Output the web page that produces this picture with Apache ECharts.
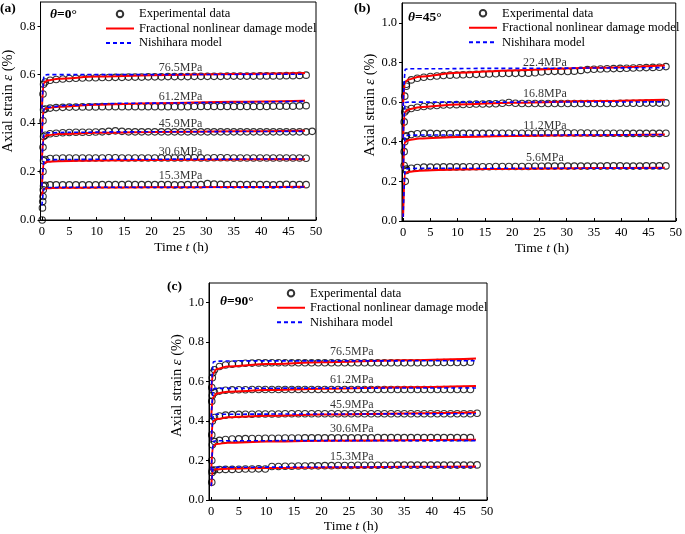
<!DOCTYPE html>
<html><head><meta charset="utf-8">
<script src="https://cdn.jsdelivr.net/npm/echarts@6/dist/echarts.min.js"></script>
<style>html,body{margin:0;padding:0;background:#fff}#c{width:685px;height:534px}</style>
</head><body><div id="c"></div>
<script>
// ---------- shared ----------
const expT = [0.6,1.5,2.6,3.8,5.0,6.2,7.4,8.6,9.8,11.0,12.2,13.4,14.6,15.8,17.0,18.2,19.4,20.6,21.8,23.0,24.2,25.4,26.6,27.8,29.0,30.2,31.4,32.6,33.8,35.0,36.2,37.4,38.6,39.8,41.0,42.2,43.4,44.6,45.8,47.0,48.2,49.3];
const xTicks = [0,5,10,15,20,25,30,35,40,45,50];
const yTicksA = [0,0.2,0.4,0.6,0.8];
const yTicksBC = [0,0.2,0.4,0.6,0.8,1.0];
const fracT = [0,0.3,1,3,10,20,35,48];
const nishT = [0,0.4,1,5,15,48];

// ---------- panel (a) theta = 0 ----------
const aLevels = ['15.3MPa','30.6MPa','45.9MPa','61.2MPa','76.5MPa'];
const aPreT = [[0.05,0.1,0.15,0.2,0.25,0.3],[0.2,0.3],[0.2,0.3],[0.2,0.3],[0.2,0.3]];
const aPreV = [[0.0,0.05,0.076,0.097,0.125,0.14],[0.2,0.245],[0.3,0.345],[0.41,0.455],[0.52,0.56]];
const aExp = [
 [0.143,0.145,0.145,0.145,0.145,0.145,0.145,0.145,0.145,0.146,0.146,0.146,0.146,0.147,0.146,0.146,0.146,0.146,0.146,0.146,0.145,0.145,0.146,0.146,0.146,0.150,0.148,0.147,0.146,0.146,0.146,0.146,0.146,0.146,0.146,0.145,0.146,0.147,0.146,0.146,0.146],
 [0.250,0.254,0.255,0.256,0.256,0.256,0.256,0.256,0.256,0.256,0.257,0.257,0.256,0.256,0.256,0.256,0.256,0.256,0.256,0.256,0.256,0.256,0.257,0.257,0.256,0.256,0.257,0.257,0.257,0.256,0.256,0.256,0.256,0.256,0.256,0.256,0.256,0.256,0.256,0.256,0.255],
 [0.350,0.356,0.358,0.360,0.361,0.362,0.362,0.362,0.363,0.364,0.366,0.368,0.366,0.364,0.364,0.364,0.364,0.364,0.364,0.364,0.364,0.364,0.364,0.364,0.364,0.364,0.364,0.364,0.364,0.364,0.364,0.364,0.364,0.364,0.364,0.364,0.364,0.364,0.364,0.364,0.364,0.366],
 [0.458,0.462,0.464,0.465,0.466,0.466,0.467,0.467,0.467,0.468,0.468,0.468,0.468,0.468,0.468,0.468,0.468,0.468,0.468,0.468,0.468,0.468,0.468,0.469,0.469,0.469,0.469,0.469,0.469,0.469,0.469,0.469,0.469,0.469,0.469,0.470,0.470,0.470,0.470,0.471,0.472],
 [0.570,0.577,0.580,0.582,0.584,0.585,0.586,0.587,0.587,0.588,0.588,0.589,0.589,0.590,0.590,0.590,0.591,0.591,0.591,0.592,0.592,0.592,0.592,0.593,0.593,0.593,0.593,0.593,0.594,0.594,0.594,0.594,0.594,0.595,0.595,0.595,0.595,0.596,0.596,0.597,0.598]
];
const aFrac = [
 [0.10,0.128,0.131,0.133,0.134,0.135,0.136,0.137],
 [0.14,0.235,0.240,0.243,0.246,0.248,0.250,0.251],
 [0.25,0.342,0.350,0.355,0.360,0.363,0.366,0.368],
 [0.36,0.455,0.462,0.468,0.476,0.482,0.488,0.492],
 [0.46,0.565,0.576,0.583,0.592,0.598,0.603,0.607]
];
const aNish = [
 [0.06,0.130,0.134,0.135,0.135,0.136],
 [0.14,0.245,0.249,0.250,0.251,0.252],
 [0.25,0.355,0.360,0.362,0.364,0.366],
 [0.36,0.460,0.466,0.474,0.482,0.490],
 [0.46,0.598,0.600,0.600,0.600,0.602]
];
const aLabT = [25.3,25.3,25.3,25.3,25.3];
const aLabV = [0.182,0.281,0.397,0.508,0.627];

// ---------- panel (b) theta = 45 ----------
const bLevels = ['5.6MPa','11.2MPa','16.8MPa','22.4MPa'];
const bPreT = [[0.4,0.2,0.6],[0.2,0.3,0.5],[0.2,0.3],[0.3,0.6]];
const bPreV = [[0.2,0.28,0.255],[0.35,0.4,0.425],[0.5,0.55],[0.63,0.68]];
const bExp = [
 [0.262,0.266,0.270,0.272,0.272,0.272,0.273,0.273,0.273,0.273,0.274,0.274,0.274,0.274,0.275,0.275,0.275,0.275,0.275,0.275,0.276,0.276,0.277,0.277,0.277,0.277,0.277,0.277,0.277,0.277,0.277,0.278,0.278,0.278,0.277,0.277,0.277,0.278,0.278,0.278,0.278],
 [0.430,0.436,0.440,0.442,0.442,0.441,0.441,0.441,0.442,0.442,0.442,0.442,0.442,0.442,0.443,0.443,0.443,0.443,0.443,0.443,0.443,0.443,0.444,0.444,0.444,0.444,0.444,0.444,0.444,0.443,0.443,0.443,0.443,0.443,0.442,0.442,0.442,0.442,0.442,0.442,0.443],
 [0.560,0.568,0.574,0.578,0.581,0.583,0.585,0.586,0.587,0.588,0.589,0.590,0.590,0.591,0.592,0.594,0.598,0.594,0.593,0.593,0.593,0.593,0.593,0.593,0.593,0.593,0.593,0.593,0.593,0.593,0.593,0.593,0.593,0.594,0.594,0.594,0.594,0.595,0.595,0.595,0.596],
 [0.690,0.712,0.720,0.725,0.729,0.732,0.734,0.736,0.737,0.738,0.739,0.740,0.741,0.742,0.743,0.744,0.745,0.745,0.745,0.746,0.748,0.752,0.755,0.755,0.755,0.754,0.756,0.760,0.764,0.766,0.767,0.768,0.769,0.770,0.771,0.772,0.773,0.774,0.775,0.776,0.779]
];
const bFrac = [
 [0.02,0.240,0.248,0.254,0.260,0.264,0.267,0.269],
 [0.26,0.398,0.408,0.416,0.424,0.429,0.433,0.436],
 [0.42,0.550,0.563,0.574,0.588,0.597,0.605,0.612],
 [0.58,0.700,0.714,0.728,0.748,0.760,0.773,0.785]
];
const bNish = [
 [0.02,0.262,0.265,0.266,0.266,0.267],
 [0.26,0.430,0.433,0.434,0.434,0.435],
 [0.42,0.598,0.600,0.600,0.600,0.601],
 [0.58,0.765,0.768,0.768,0.770,0.774]
];
const bLabT = [26,26,26,26];
const bLabV = [0.32,0.48,0.64,0.80];

// ---------- panel (c) theta = 90 ----------
const cLevels = ['15.3MPa','30.6MPa','45.9MPa','61.2MPa','76.5MPa'];
const cPreT = [[0.1,0.15,0.2],[0.1,0.2],[0.1,0.2],[0.1,0.2],[0.1,0.2,0.3]];
const cPreV = [[0.09,0.14,0.15],[0.2,0.28],[0.33,0.4],[0.5,0.53],[0.57,0.62,0.645]];
const cExp = [
 [0.152,0.154,0.155,0.155,0.156,0.157,0.157,0.158,0.157,0.170,0.170,0.171,0.171,0.172,0.172,0.173,0.173,0.174,0.174,0.175,0.175,0.175,0.176,0.176,0.176,0.176,0.176,0.176,0.177,0.177,0.177,0.177,0.177,0.177,0.177,0.177,0.177,0.177,0.177,0.177,0.178],
 [0.296,0.302,0.307,0.309,0.310,0.311,0.312,0.312,0.313,0.313,0.313,0.314,0.314,0.314,0.315,0.315,0.315,0.315,0.315,0.315,0.315,0.315,0.315,0.315,0.315,0.316,0.316,0.316,0.316,0.316,0.316,0.316,0.316,0.316,0.316,0.316,0.316,0.316,0.316,0.316],
 [0.418,0.426,0.430,0.433,0.434,0.435,0.435,0.436,0.436,0.436,0.436,0.437,0.437,0.437,0.437,0.437,0.437,0.437,0.437,0.437,0.437,0.437,0.437,0.437,0.437,0.437,0.437,0.437,0.437,0.437,0.437,0.437,0.437,0.437,0.437,0.437,0.437,0.437,0.437,0.437,0.440],
 [0.545,0.552,0.556,0.558,0.559,0.559,0.560,0.560,0.560,0.560,0.560,0.560,0.560,0.560,0.560,0.560,0.560,0.560,0.560,0.560,0.560,0.560,0.560,0.560,0.560,0.560,0.560,0.560,0.560,0.560,0.560,0.560,0.560,0.560,0.560,0.560,0.560,0.560,0.560,0.560],
 [0.660,0.677,0.684,0.688,0.691,0.693,0.694,0.695,0.695,0.696,0.696,0.696,0.696,0.696,0.696,0.696,0.696,0.696,0.696,0.696,0.696,0.696,0.696,0.696,0.696,0.696,0.696,0.696,0.696,0.696,0.696,0.696,0.696,0.696,0.697,0.697,0.697,0.697,0.697,0.698]
];
const cFrac = [
 [0.07,0.152,0.156,0.159,0.162,0.165,0.168,0.170],
 [0.15,0.272,0.284,0.290,0.296,0.300,0.303,0.305],
 [0.30,0.398,0.410,0.419,0.427,0.433,0.439,0.443],
 [0.42,0.520,0.540,0.549,0.557,0.564,0.572,0.578],
 [0.55,0.640,0.664,0.677,0.689,0.698,0.708,0.717]
];
const cNish = [
 [0.07,0.163,0.166,0.166,0.167,0.167],
 [0.15,0.298,0.300,0.300,0.301,0.301],
 [0.30,0.432,0.435,0.435,0.436,0.437],
 [0.42,0.563,0.566,0.566,0.567,0.568],
 [0.55,0.700,0.704,0.705,0.705,0.706]
];
const cLabT = [25.5,25.5,25.5,25.5,25.5];
const cLabV = [0.22,0.36,0.48,0.61,0.75];

// ---------- build ----------
const FONT = 'Liberation Serif';
const N_EXP = 'Experimental data', N_FRAC = 'Fractional nonlinear damage model', N_NISH = 'Nishihara model';
const series = [];
function addPanel(gi, levels, preT, preV, exp, frac, nish, labT, labV) {
  levels.forEach((lv, k) => {
    const d = preT[k].map((t, i) => [t, preV[k][i]]).concat(exp[k].map((v, i) => [expT[i], v]));
    series.push({type:'scatter', name:N_EXP, xAxisIndex:gi, yAxisIndex:gi, data:d, symbol:'circle', symbolSize:6.5,
      itemStyle:{color:'rgba(0,0,0,0)', borderColor:'#000', borderWidth:1.1}, z:2, silent:true});
  });
  levels.forEach((lv, k) => {
    series.push({type:'line', name:N_FRAC, xAxisIndex:gi, yAxisIndex:gi, data:frac[k].map((v,i)=>[fracT[i], v]),
      symbol:'none', smooth:0.3, smoothMonotone:'x', lineStyle:{color:'#ff0000', width:2}, itemStyle:{color:'#ff0000'}, z:3, silent:true});
  });
  levels.forEach((lv, k) => {
    series.push({type:'line', name:N_NISH, xAxisIndex:gi, yAxisIndex:gi, data:nish[k].map((v,i)=>[nishT[i], v]),
      symbol:'none', smooth:0.3, smoothMonotone:'x', lineStyle:{color:'#0000ff', width:1.6, type:[4,3]}, itemStyle:{color:'#0000ff'}, z:4, silent:true});
  });
  series.push({type:'scatter', name:'labels'+gi, xAxisIndex:gi, yAxisIndex:gi, symbolSize:0, silent:true, z:5,
    data: levels.map((lv,k)=>({name:lv, value:[labT[k], labV[k]]})),
    label:{show:true, position:'inside', formatter:'{b}', fontFamily:FONT, fontSize:12, color:'#000'}});
}
addPanel(0, aLevels, aPreT, aPreV, aExp, aFrac, aNish, aLabT, aLabV);
addPanel(1, bLevels, bPreT, bPreV, bExp, bFrac, bNish, bLabT, bLabV);
addPanel(2, cLevels, cPreT, cPreV, cExp, cFrac, cNish, cLabT, cLabV);

const grids = [
  {left:39, top:2, width:277, height:218},
  {left:402, top:3, width:277, height:218},
  {left:209, top:283, width:278, height:217}
].map(g => Object.assign(g, {show:true, borderColor:'#000', borderWidth:1, backgroundColor:'rgba(0,0,0,0)'}));

function richName(fs) {
  return {n:{fontFamily:FONT, fontSize:fs, color:'#000'}, i:{fontFamily:FONT, fontSize:fs, fontStyle:'italic', color:'#000'}};
}
function xAx(gi, min, gap) {
  return {type:'value', gridIndex:gi, min:min, max:50,
    axisLine:{onZero:false, lineStyle:{color:'#000', width:1}},
    axisTick:{inside:true, length:3, customValues:xTicks, lineStyle:{color:'#000'}},
    axisLabel:{customValues:xTicks, fontFamily:FONT, fontSize:12.5, color:'#000', margin:5},
    splitLine:{show:false},
    name:'{n|Time }{i|t}{n| (h)}', nameLocation:'middle', nameGap:gap,
    nameTextStyle:{rich:richName(13.5), padding:[0,0,0,6]}};
}
function yAx(gi, max, ticks, gap, shift) {
  return {type:'value', gridIndex:gi, min:0, max:max,
    axisLine:{onZero:false, lineStyle:{color:'#000', width:1}},
    axisTick:{inside:false, length:3, customValues:ticks, lineStyle:{color:'#000'}},
    axisLabel:{customValues:ticks, fontFamily:FONT, fontSize:12.5, color:'#000', margin:5, formatter:v=>v.toFixed(1)},
    splitLine:{show:false},
    name:'{n|Axial strain }{i|ε}{n| (%)}', nameLocation:'middle', nameGap:gap,
    nameTextStyle:{rich:richName(14.5), padding:[0,0,0,shift]}};
}

const legTxt = {fontFamily:FONT, fontSize:12.5, color:'#000', lineHeight:14.5};
const hideSym = {color:'rgba(0,0,0,0)', borderColor:'rgba(0,0,0,0)', borderWidth:0, opacity:0};
function leg(left, top) {
  return {data:[{name:N_EXP}, {name:N_FRAC, itemStyle:hideSym}, {name:N_NISH, itemStyle:hideSym}],
    orient:'vertical', left:left, top:top, itemWidth:28, itemHeight:6.5, itemGap:0,
    textStyle:legTxt, selectedMode:false, padding:0};
}
const titleRich = {
  i:{fontFamily:FONT, fontSize:13.5, fontWeight:'bold', fontStyle:'italic', color:'#000'},
  b:{fontFamily:FONT, fontSize:13.5, fontWeight:'bold', color:'#000'}
};
function ttl(text, left, top) {
  return {text:text, left:left, top:top, padding:0, textStyle:{fontFamily:FONT, fontSize:13.5, fontWeight:'bold', color:'#000', rich:titleRich}};
}

const chart = echarts.init(document.getElementById('c'), null, {renderer:'canvas'});
chart.setOption({
  animation:false,
  backgroundColor:'#fff',
  title:[ttl('(a)',0,2), ttl('{i|θ}{b|=0°}',50,8), ttl('(b)',354,2), ttl('{i|θ}{b|=45°}',408,11), ttl('(c)',167,280), ttl('{i|θ}{b|=90°}',220,295)],
  legend:[leg(105,6.75), leg(468,6), leg(276,286)],
  grid:grids,
  xAxis:[xAx(0,-0.25,20), xAx(1,-0.2,20), xAx(2,-0.4,19)],
  yAxis:[yAx(0,0.9,yTicksA,17,20), yAx(1,1.1,yTicksBC,18,14), yAx(2,1.1,yTicksBC,14,12)],
  series:series
});
</script>
</body></html>
